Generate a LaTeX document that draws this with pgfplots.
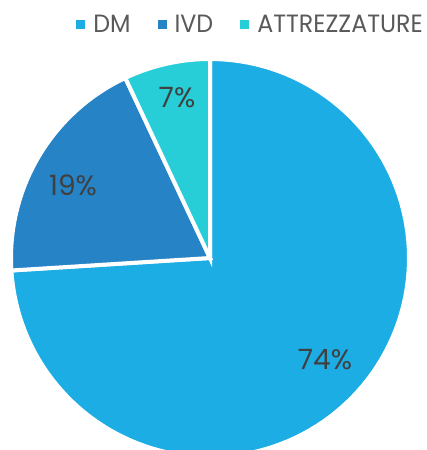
\documentclass[border=0pt]{standalone}
\usepackage{pgfplots}
\pgfplotsset{compat=1.18}
\usepackage{fontspec}
\setmainfont{Poppins}
\newfontfamily\legfont{Poppins}[FakeStretch=0.95]
\definecolor{cDM}{HTML}{1CADE4}
\definecolor{cIVD}{HTML}{2683C6}
\definecolor{cATT}{HTML}{27CED7}
\definecolor{txt}{HTML}{595959}
\definecolor{lab}{HTML}{404040}
\pgfplotsset{
  sqlegend/.style={legend image code/.code={\fill[#1, draw=none] (0pt,-4.5pt) rectangle (9pt,4.5pt);}},
}
% data: share (%) of each category
\def\vDM{74}
\def\vIVD{19}
\def\vATT{7}
\begin{document}
\begin{tikzpicture}
\pgfmathsetmacro{\aA}{90}
\pgfmathsetmacro{\aB}{90-3.6*\vDM}
\pgfmathsetmacro{\aC}{\aB-3.6*\vIVD}
\pgfmathsetmacro{\aD}{\aC-3.6*\vATT}
\begin{axis}[
  scale only axis, width=427pt, height=450pt,
  xmin=0, xmax=427, ymin=0, ymax=450,
  axis lines=none, clip=true,
  sqlegend,
  legend columns=3,
  legend style={draw=none, fill=none, at={(axis cs:428,425)}, anchor=east,
    font=\legfont\fontsize{25}{30}\selectfont, text=txt,
    /tikz/every odd column/.append style={column sep=6pt},
    /tikz/every even column/.append style={column sep=25pt}},
]
\addplot[fill=cDM, draw=white, line width=4pt, domain=\aB:\aA, samples=120, variable=\t]
  ({210+199*cos(\t)},{192+199*sin(\t)}) -- (axis cs:210,192) -- cycle;
\addplot[fill=cIVD, draw=white, line width=4pt, domain=\aC:\aB, samples=60, variable=\t]
  ({210+199*cos(\t)},{192+199*sin(\t)}) -- (axis cs:210,192) -- cycle;
\addplot[fill=cATT, draw=white, line width=4pt, domain=\aD:\aC, samples=30, variable=\t]
  ({210+199*cos(\t)},{192+199*sin(\t)}) -- (axis cs:210,192) -- cycle;
\legend{DM, IVD, ATTREZZATURE}
\node[text=lab, font=\fontsize{28}{32}\selectfont] at (axis cs:325,90) {74\%};
\node[text=lab, font=\fontsize{28}{32}\selectfont] at (axis cs:73,265) {19\%};
\node[text=lab, font=\fontsize{28}{32}\selectfont] at (axis cs:177,352) {7\%};
\end{axis}
\pgfresetboundingbox
\path (current axis.south west) rectangle (current axis.north east);
\end{tikzpicture}
\end{document}
